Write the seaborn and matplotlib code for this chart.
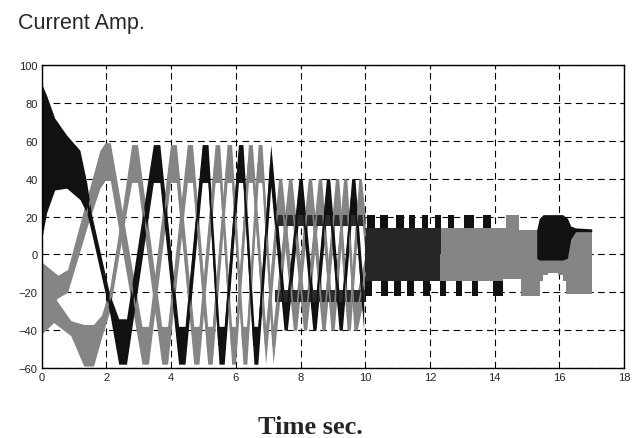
import numpy as np
import matplotlib
matplotlib.use('Agg')
import matplotlib.pyplot as plt
import seaborn as sns

# phase A (black): time, centre of the slow wave, ripple half width
a_t = [0.0, 0.15, 0.4, 0.77, 1.18, 1.39, 1.53, 2.1, 2.38, 2.62, 3.45, 3.65, 4.23, 4.43,
       4.96, 5.14, 5.48, 5.64, 6.08, 6.22, 6.56, 6.68, 7.08,
       7.49, 7.59, 7.95, 8.05, 8.38, 8.48, 8.8, 8.9, 9.19, 9.29, 9.58, 9.68, 9.95]
a_c = [49, 53, 53, 49, 42, 30, 17, -26, -46, -46, 48, 48, -48, -48,
       48, 48, -48, -48, 48, 48, -48, -48, 47,
       -30, -30, 30, 30, -30, -30, 30, 30, -30, -30, 30, 30, -30]
a_r = [41, 31, 19, 14, 13, 8, 5, 5, 12, 12, 10, 10, 10, 10,
       10, 10, 10, 10, 10, 10, 10, 10, 11,
       10, 10, 10, 10, 10, 10, 10, 10, 10, 10, 10, 10, 10]

# phase B (grey)
b_t = [0.0, 0.5, 0.8, 1.43, 1.8, 1.96, 2.12, 3.1, 3.3, 3.98, 4.16, 4.7, 4.86,
       5.36, 5.5, 5.87, 5.99, 6.39, 6.51, 6.92,
       7.32, 7.42, 7.78, 7.88, 8.24, 8.34, 8.66, 8.76, 9.08, 9.18, 9.44, 9.54, 9.8, 9.88, 10.0]
b_c = [-18, -17, -14, 24, 45, 49, 49, -48, -48, 48, 48, -48, -48,
       48, 48, -48, -48, 48, 48, -48,
       30, 30, -30, -30, 30, 30, -30, -30, 30, 30, -30, -30, 30, 30, 10]
b_r = [14, 6, 6, 8, 10, 10, 10, 10, 10, 10, 10, 10, 10,
       10, 10, 10, 10, 10, 10, 10,
       10, 10, 10, 10, 10, 10, 10, 10, 10, 10, 10, 10, 10, 10, 10]

# phase C (grey)
c_t = [0.0, 0.37, 0.9, 1.3, 1.6, 1.85, 2.1, 2.5, 2.78, 2.96, 3.71, 3.89, 4.5, 4.66,
       5.13, 5.27, 5.73, 5.87, 6.22, 6.34, 6.69, 6.81, 7.15,
       7.63, 7.73, 8.09, 8.19, 8.55, 8.65, 8.94, 9.04, 9.33, 9.43, 9.65, 9.75, 10.0]
c_c = [-30, -29, -39, -48, -48, -38, -24, 18, 48, 48, -48, -48, 48, 48,
       -48, -48, 48, 48, -48, -48, 48, 48, -48,
       30, 30, -30, -30, 30, 30, -30, -30, 30, 30, -30, -30, -10]
c_r = [12, 7, 4, 11, 11, 6, 6, 7, 10, 10, 10, 10, 10, 10,
       10, 10, 10, 10, 10, 10, 10, 10, 10,
       10, 10, 10, 10, 10, 10, 10, 10, 10, 10, 10, 10, 10]

# dense levels at +-20 between 7 and 10 s
dw_t = [7.2, 10.0]
dw_top_lo = [15, 15]
dw_top_hi = [21, 21]
dw_bot_lo = [-25, -25]
dw_bot_hi = [-19, -19]

# band after 10 s (step edges)
up_t = [10.0, 10.05, 10.3, 10.45, 10.7, 10.95, 11.2, 11.35, 11.55, 11.75,
        11.95, 12.15, 12.35, 12.55, 12.75, 13.05, 13.35, 13.65, 13.9, 14.35,
        14.75, 17.0]
up_y = [14, 21, 14, 21, 14, 21, 14, 21, 14, 21,
        14, 21, 14, 21, 14, 21, 14, 21, 14, 21,
        13, 13]
lo_t = [10.0, 10.2, 10.5, 10.7, 10.9, 11.1, 11.3, 11.5, 11.8, 12.0,
        12.3, 12.5, 12.8, 13.0, 13.3, 13.5, 13.95, 14.25, 14.8, 15.4,
        15.5, 15.65, 15.95, 16.1, 16.2, 17.0]
lo_y = [-22, -14, -22, -14, -22, -14, -22, -14, -22, -14,
        -22, -14, -22, -14, -22, -14, -22, -13, -22, -14,
        -11, -10, -11, -14, -21, -21]

# black block around 16 s
blob_t = [15.3, 15.38, 15.5, 16.1, 16.25, 16.35, 16.5, 17.0]
blob_hi = [13, 19, 21, 21, 19, 15, 14, 13.5]
blob_lo = [-2, -3, -3, -3, -2, 8, 12, 12]

BLACK = '#111111'
GREY = '#858585'

sns.set_style('white')
plt.rcParams['font.family'] = ['Liberation Sans', 'DejaVu Sans']

fig = plt.figure(figsize=(6.33, 4.39), dpi=100)
ax = fig.add_axes([0.0659, 0.1595, 0.920, 0.690])


def trace(t, c, r, col):
    t = np.array(t, dtype=float)
    c = np.array(c, dtype=float)
    r = np.array(r, dtype=float)
    ax.fill_between(t, c - r, c + r, color=col, lw=0)
    sns.lineplot(x=t, y=c, color=col, lw=1.2, sort=False, estimator=None, ax=ax)


trace(c_t, c_c, c_r, GREY)
trace(b_t, b_c, b_r, GREY)
trace(a_t, a_c, a_r, BLACK)

ax.fill_between(dw_t, dw_top_lo, dw_top_hi, color='#2a2a2a', lw=0)
ax.fill_between(dw_t, dw_bot_lo, dw_bot_hi, color='#2a2a2a', lw=0)

ut = np.array(up_t)
lt = np.array(lo_t)
ax.fill_between(ut, 0, up_y, step='post', color=GREY, lw=0)
ax.fill_between(lt, lo_y, 0, step='post', color=GREY, lw=0)
# dark start of the band
ax.fill_between(ut, 0, up_y, where=ut <= 12.35, step='post', color='#262626', lw=0)
ax.fill_between(lt, lo_y, 0, where=lt <= 12.3, step='post', color='#262626', lw=0)
# black bars on the edges
ax.fill_between(ut, 14, up_y, where=ut <= 14.35, step='post', color=BLACK, lw=0)
ax.fill_between(lt, lo_y, -14, where=lt <= 14.25, step='post', color=BLACK, lw=0)
ax.fill_between(blob_t, blob_lo, blob_hi, color=BLACK, lw=0)

ax.set_xlim(0, 18)
ax.set_ylim(-60, 100)
ax.set_xticks(range(0, 19, 2))
ax.set_yticks(range(-60, 101, 20))
ax.set_xlabel('')
ax.set_ylabel('')
ax.grid(True, color='black', linestyle=(0, (6, 4)), linewidth=0.8)
ax.set_axisbelow(True)
for s in ax.spines.values():
    s.set_color('black')
    s.set_linewidth(1.0)
ax.tick_params(direction='in', length=3, top=True, right=True,
               labelsize=8, labelcolor='#222222', color='black', pad=3)

fig.text(18 / 633, 1 - 29 / 439, 'Current Amp.', fontsize=15.5,
         family='Liberation Sans', va='baseline')
fig.text(310 / 633, 5 / 439, 'Time sec.', fontsize=19, fontweight='bold',
         family='Liberation Serif', ha='center', va='baseline')

fig.savefig('out.png', dpi=100)
